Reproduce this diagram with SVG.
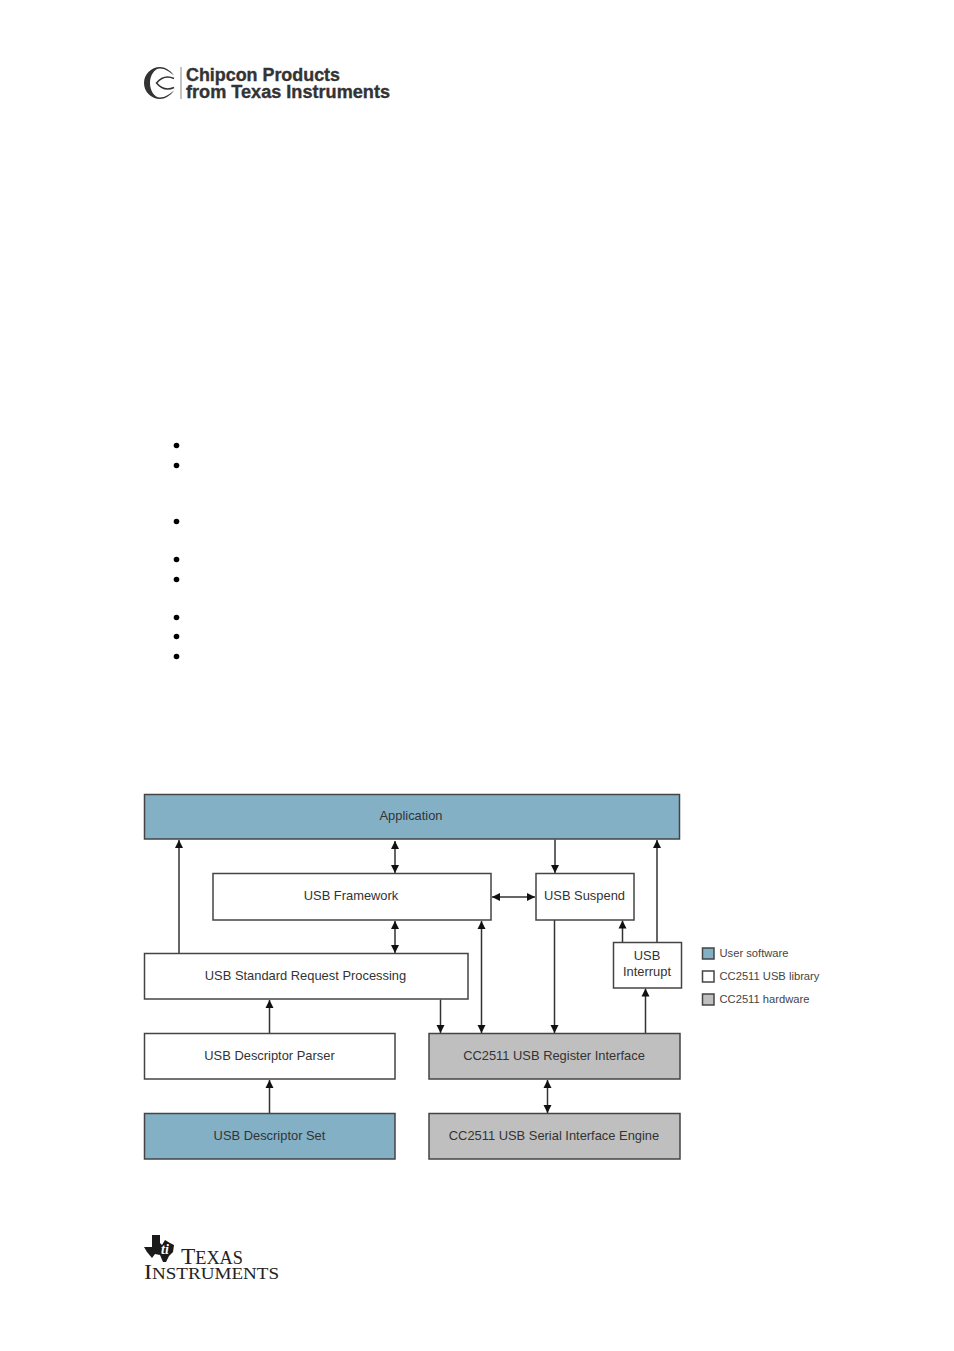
<svg xmlns="http://www.w3.org/2000/svg" width="954" height="1351" viewBox="0 0 954 1351">
<style>
.box{stroke:#444;stroke-width:1.5}
.lib{fill:#fff}
.sw{fill:#84b0c6}
.hw{fill:#bfbfbf}
.t{font-family:"Liberation Sans",Arial,sans-serif;font-size:12.9px;fill:#333;text-anchor:middle}
.lg{font-family:"Liberation Sans",Arial,sans-serif;font-size:11.2px;fill:#444}
.c{stroke:#333;stroke-width:1.5;fill:none}
.a{marker-end:url(#ah)}
.b{marker-start:url(#as);marker-end:url(#ah)}
.chip{font-family:"Liberation Sans",Arial,sans-serif;font-weight:700;font-size:17.6px;fill:#333;stroke:#333;stroke-width:.35}
.ti{font-family:"Liberation Serif","Times New Roman",serif;fill:#222}
</style>
<defs>
<marker id="ah" markerUnits="userSpaceOnUse" markerWidth="10" markerHeight="10" refX="8" refY="4.500" orient="auto"><path d="M0 0.500L8 4.500L0 8.500z" fill="#111"/></marker>
<marker id="as" markerUnits="userSpaceOnUse" markerWidth="10" markerHeight="10" refX="0" refY="4.500" orient="auto"><path d="M8 0.500L0 4.500L8 8.500z" fill="#111"/></marker>
</defs>
<rect width="954" height="1351" fill="#fff"/>

<g id="chipcon-logo">
<path d="M174 75.500C170 70 165 67 160 67A16 16 0 0 0 160 99C165 99 170 96 174 90.500C170 94 165 97.500 160 97.500C154 97.500 150 90 150 83C150 76 154 68.500 160 68.500C165 68.500 170 72 174 75.500Z" fill="#333"/>
<path d="M174 78.500Q164 74 156.500 83Q164 92 174 87.500" fill="none" stroke="#333" stroke-width="1.500"/>
<line x1="181" y1="67" x2="181" y2="99" stroke="#888" stroke-width="1"/>
<text class="chip" x="186" y="81" textLength="154" lengthAdjust="spacingAndGlyphs">Chipcon Products</text>
<text class="chip" x="186" y="98" textLength="204" lengthAdjust="spacingAndGlyphs">from Texas Instruments</text>
</g>

<g id="bullets" fill="#000">
<circle cx="176.500" cy="445.500" r="2.800"/>
<circle cx="176.500" cy="465.500" r="2.800"/>
<circle cx="176.500" cy="521.500" r="2.800"/>
<circle cx="176.500" cy="559.500" r="2.800"/>
<circle cx="176.500" cy="579.500" r="2.800"/>
<circle cx="176.500" cy="617.500" r="2.800"/>
<circle cx="176.500" cy="636.500" r="2.800"/>
<circle cx="176.500" cy="656.500" r="2.800"/>
</g>

<g id="connectors">
<path class="c a" d="M179 953V840"/>
<path class="c b" d="M395 841V873"/>
<path class="c b" d="M395 921V953"/>
<path class="c a" d="M555 839.500V873"/>
<path class="c b" d="M492 897H535"/>
<path class="c a" d="M657 942V840"/>
<path class="c a" d="M622.500 942V920.500"/>
<path class="c a" d="M645.500 1033V988.500"/>
<path class="c a" d="M554.500 920V1033"/>
<path class="c b" d="M481.500 921V1033"/>
<path class="c a" d="M440.500 999.500V1033"/>
<path class="c a" d="M269.500 1033V1000"/>
<path class="c a" d="M269.500 1113V1080"/>
<path class="c b" d="M547.500 1080V1113"/>
</g>

<g id="application"><rect class="box sw" x="144.500" y="794.500" width="535" height="44.500"/><text class="t" x="411" y="820">Application</text></g>
<g id="usb-framework"><rect class="box lib" x="213" y="873.500" width="278" height="46.500"/><text class="t" x="351" y="900">USB Framework</text></g>
<g id="usb-suspend"><rect class="box lib" x="536" y="873.500" width="98" height="46.500"/><text class="t" x="584.500" y="900">USB Suspend</text></g>
<g id="usb-interrupt"><rect class="box lib" x="613.500" y="942.500" width="68" height="45.500"/><text class="t" x="647" y="960">USB</text><text class="t" x="647" y="976">Interrupt</text></g>
<g id="usb-standard-request"><rect class="box lib" x="144.500" y="953.500" width="323.500" height="45.500"/><text class="t" x="305.500" y="980">USB Standard Request Processing</text></g>
<g id="usb-descriptor-parser"><rect class="box lib" x="144.500" y="1033.500" width="250.500" height="45.500"/><text class="t" x="269.500" y="1059.500">USB Descriptor Parser</text></g>
<g id="usb-descriptor-set"><rect class="box sw" x="144.500" y="1113.500" width="250.500" height="45.500"/><text class="t" x="269.500" y="1139.500">USB Descriptor Set</text></g>
<g id="register-interface"><rect class="box hw" x="429" y="1033.500" width="251" height="45.500"/><text class="t" x="554" y="1059.500">CC2511 USB Register Interface</text></g>
<g id="serial-interface-engine"><rect class="box hw" x="429" y="1113.500" width="251" height="45.500"/><text class="t" x="554" y="1139.500">CC2511 USB Serial Interface Engine</text></g>

<g id="legend">
<rect class="box sw" x="702.500" y="948" width="11.500" height="11"/><text class="lg" x="719.500" y="956.500">User software</text>
<rect class="box lib" x="702.500" y="971" width="11.500" height="11"/><text class="lg" x="719.500" y="979.500">CC2511 USB library</text>
<rect class="box hw" x="702.500" y="994" width="11.500" height="11"/><text class="lg" x="719.500" y="1002.500">CC2511 hardware</text>
</g>

<g id="ti-logo">
<path d="M152 1235H160V1243L162 1245L165 1240L170 1243L174 1245L173 1252L169 1256L166 1262L163 1262L160 1255L155 1254L152 1258L147 1252L144 1247H152Z" fill="#1a1a1a"/>
<text x="161" y="1254" font-family="'Liberation Serif',serif" font-style="italic" font-weight="700" font-size="14" fill="#fff">ti</text>
<text class="ti" x="181" y="1263.500" font-size="23" textLength="62" lengthAdjust="spacingAndGlyphs">T<tspan font-size="18">EXAS</tspan></text>
<text class="ti" x="144" y="1279" font-size="21.500" textLength="135" lengthAdjust="spacingAndGlyphs">I<tspan font-size="17">NSTRUMENTS</tspan></text>
</g>
</svg>
